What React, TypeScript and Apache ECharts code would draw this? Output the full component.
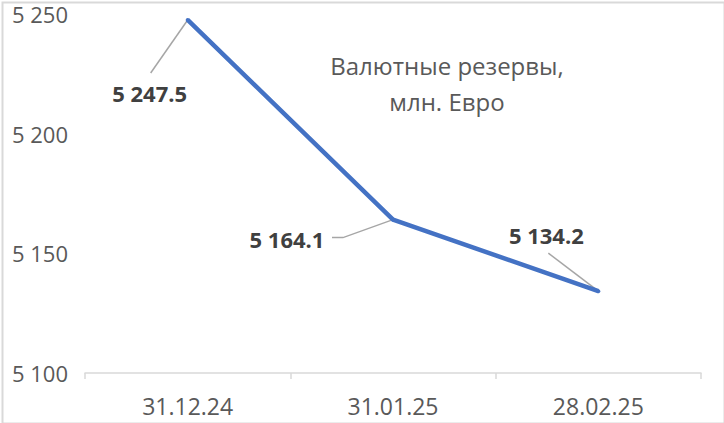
import React, { useEffect, useRef } from "react";
import * as echarts from "echarts";

const categories = ["31.12.24", "31.01.25", "28.02.25"];
const reserves = [5247.5, 5164.1, 5134.2];
const yTicks = [5100, 5150, 5200, 5250];
const titleLines = ["Валютные резервы,", "млн. Евро"];

// label centre and leader-line vertices, relative to the data point (px)
const labelPlacement = [
  { c: [-38, 73], leader: [[-37, 53]] },
  { c: [-106, 19], leader: [[-61, 18], [-50, 18]] },
  { c: [-52, -56], leader: [[-50, -38]] },
];

const fmt = (v: number, dec: number) => {
  const s = v.toFixed(dec);
  const [i, d] = s.split(".");
  const ii = i.replace(/\B(?=(\d{3})+(?!\d))/g, " ");
  return d ? ii + "." + d : ii;
};

export default function App() {
  const ref = useRef<HTMLDivElement>(null);
  useEffect(() => {
    document.body.style.margin = "0";
    const chart = echarts.init(ref.current!, null, { renderer: "svg" });
    chart.setOption({
      animation: false,
      backgroundColor: "#ffffff",
      grid: { left: 85, right: 23, top: 14, bottom: 50 },
      graphic: [
        {
          type: "rect",
          left: 0,
          top: 0,
          shape: { x: 1, y: 1, width: 722, height: 421 },
          style: { fill: "none", stroke: "#d9d9d9", lineWidth: 2 },
          silent: true,
        },
        {
          type: "text",
          x: 447,
          y: 83,
          style: {
            text: titleLines.join("\n"),
            fill: "#595959",
            font: '24px "Open Sans"',
            align: "center",
            verticalAlign: "middle",
            lineHeight: 36,
          },
        },
      ],
      xAxis: {
        type: "category",
        data: categories,
        boundaryGap: true,
        axisLine: { show: true, lineStyle: { color: "#d9d9d9", width: 1.5 } },
        axisTick: { show: true, length: 6, lineStyle: { color: "#d9d9d9", width: 1.5 } },
        axisLabel: {
          color: "#595959",
          fontSize: 23,
          fontFamily: "Open Sans",
          margin: 21,
        },
        splitLine: { show: false },
      },
      yAxis: {
        type: "value",
        min: yTicks[0],
        max: yTicks[yTicks.length - 1],
        interval: 50,
        axisLine: { show: false },
        axisTick: { show: false },
        splitLine: { show: false },
        axisLabel: {
          color: "#595959",
          fontSize: 22,
          fontFamily: "Open Sans",
          align: "left",
          margin: 73,
          formatter: (v: number) => fmt(v, 0),
        },
      },
      series: [
        {
          type: "line",
          data: reserves,
          symbol: "circle",
          symbolSize: 4,
          itemStyle: { color: "#4472C4" },
          lineStyle: { color: "#4472C4", width: 4.5 },
          z: 3,
        },
        {
          type: "custom",
          data: reserves.map((v, i) => [i, v]),
          z: 2,
          renderItem: (params: any, api: any) => {
            const idx = params.dataIndex;
            const pt = api.coord([api.value(0), api.value(1)]);
            const pl = labelPlacement[idx];
            const pts = pl.leader.map((o) => [pt[0] + o[0], pt[1] + o[1]]);
            pts.push([pt[0], pt[1]]);
            return {
              type: "group",
              children: [
                {
                  type: "polyline",
                  shape: { points: pts },
                  style: { stroke: "#a6a6a6", lineWidth: 1.5, fill: "none" },
                },
                {
                  type: "text",
                  style: {
                    x: pt[0] + pl.c[0],
                    y: pt[1] + pl.c[1],
                    text: fmt(api.value(1), 1),
                    fill: "#404040",
                    font: 'bold 22px "Open Sans"',
                    align: "center",
                    verticalAlign: "middle",
                  },
                },
              ],
            };
          },
        },
      ],
    });
    return () => chart.dispose();
  }, []);
  return (
    <div
      ref={ref}
      style={{ position: "fixed", left: 0, top: 0, width: 724, height: 423 }}
    />
  );
}
